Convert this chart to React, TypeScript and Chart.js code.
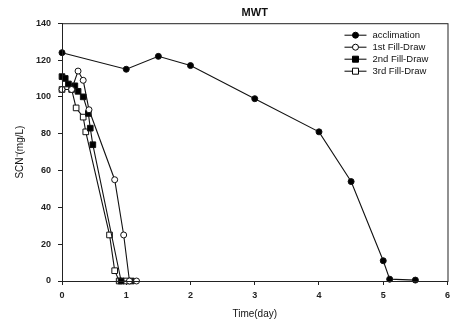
import React, { useEffect, useRef } from "react";
import { Chart, registerables } from "chart.js";
Chart.register(...registerables);

const title = "MWT";
const xTitle = "Time(day)";
const yTitle = "SCN⁻(mg/L)";
const seriesNames = ["acclimation", "1st Fill-Draw", "2nd Fill-Draw", "3rd Fill-Draw"];

const acclimationT = [0, 1, 1.5, 2, 3, 4, 4.5, 5, 5.1, 5.5];
const acclimationV = [124, 115, 122, 117, 99, 81, 54, 11, 1, 0.5];

const fill1T = [0, 0.15, 0.25, 0.33, 0.42, 0.82, 0.96, 1.05, 1.16];
const fill1V = [104, 104, 114, 109, 93, 55, 25, 0, 0];

const fill2T = [0, 0.05, 0.1, 0.2, 0.25, 0.33, 0.41, 0.44, 0.48, 0.92, 1.08];
const fill2V = [111, 110, 107, 106, 103, 100, 91, 83, 74, 0, 0];

const fill3T = [0, 0.15, 0.22, 0.33, 0.37, 0.74, 0.82, 0.89, 0.99];
const fill3V = [104, 104, 94, 89, 81, 25, 5.6, 0, 0];

const xTicks = [0, 1, 2, 3, 4, 5, 6];
const yTicks = [0, 20, 40, 60, 80, 100, 120, 140];

const FONT = "'Liberation Sans', Arial, sans-serif";

const toPts = (t: number[], v: number[]) => t.map((x, i) => ({ x, y: v[i] }));

const markerStyles = [
  { pointStyle: "circle", fill: "#000", r: 3 },
  { pointStyle: "circle", fill: "#fff", r: 3 },
  { pointStyle: "rect", fill: "#000", r: 4 },
  { pointStyle: "rect", fill: "#fff", r: 4 },
];

const framePlugin = {
  id: "frame",
  afterDatasetsDraw(chart: any) {
    const { ctx, chartArea: a } = chart;
    ctx.save();
    ctx.strokeStyle = "#222";
    ctx.lineWidth = 1;
    ctx.strokeRect(a.left + 0.5, a.top + 0.5, a.right - a.left, a.bottom - a.top);
    ctx.restore();
  },
  afterDraw(chart: any) {
    const { ctx, chartArea: a } = chart;
    ctx.save();
    const x0 = a.right - 103;
    const y0 = a.top + 12;
    chart.data.datasets.forEach((ds: any, i: number) => {
      const y = y0 + i * 12;
      ctx.strokeStyle = "#000";
      ctx.lineWidth = 1;
      ctx.beginPath();
      ctx.moveTo(x0, y);
      ctx.lineTo(x0 + 22, y);
      ctx.stroke();
      ctx.fillStyle = markerStyles[i].fill;
      ctx.beginPath();
      if (markerStyles[i].pointStyle === "circle") {
        ctx.arc(x0 + 11, y, 3, 0, Math.PI * 2);
      } else {
        ctx.rect(x0 + 8, y - 3, 6, 6);
      }
      ctx.fill();
      ctx.stroke();
      ctx.fillStyle = "#111";
      ctx.font = `9.5px ${FONT}`;
      ctx.textBaseline = "middle";
      ctx.textAlign = "left";
      ctx.fillText(ds.label, x0 + 28, y);
    });
    ctx.restore();
  },
};

export default function App() {
  const ref = useRef<HTMLCanvasElement>(null);
  useEffect(() => {
    document.body.style.margin = "0";
    const datasets = [
      toPts(acclimationT, acclimationV),
      toPts(fill1T, fill1V),
      toPts(fill2T, fill2V),
      toPts(fill3T, fill3V),
    ].map((data, i) => ({
      label: seriesNames[i],
      data,
      borderColor: "#111",
      borderWidth: 1.1,
      pointStyle: markerStyles[i].pointStyle,
      pointRadius: markerStyles[i].r,
      pointBackgroundColor: markerStyles[i].fill,
      pointBorderColor: "#111",
      pointBorderWidth: 1,
      showLine: true,
      fill: false,
      tension: 0,
      clip: false as any,
    }));
    const chart = new Chart(ref.current!, {
      type: "scatter",
      data: { datasets },
      options: {
        animation: false,
        responsive: false,
        layout: { padding: { left: 0, right: 5, top: 2, bottom: 0 } },
        plugins: {
          legend: { display: false },
          tooltip: { enabled: false },
          title: {
            display: true,
            text: title,
            fullSize: false,
            color: "#111",
            font: { family: FONT, size: 11, weight: "bold" },
            padding: { top: 4, bottom: 4 },
          },
        },
        scales: {
          x: {
            type: "linear",
            min: 0,
            max: 6,
            afterBuildTicks: (s: any) => {
              s.ticks = xTicks.map((v) => ({ value: v }));
            },
            afterFit: (s: any) => {
              s.height = 48;
            },
            grid: { display: true, drawOnChartArea: false, drawTicks: true, tickLength: 4, color: "#222" },
            border: { display: true, color: "#222" },
            ticks: { color: "#222", padding: 5, font: { family: FONT, size: 9, weight: "bold" } },
            title: {
              display: true,
              text: xTitle,
              color: "#111",
              font: { family: FONT, size: 10 },
              padding: { top: 0, bottom: 9 },
            },
          },
          y: {
            type: "linear",
            min: 0,
            max: 140,
            afterBuildTicks: (s: any) => {
              s.ticks = yTicks.map((v) => ({ value: v }));
            },
            afterFit: (s: any) => {
              s.width = 62;
            },
            grid: { display: true, drawOnChartArea: false, drawTicks: true, tickLength: 4, color: "#222" },
            border: { display: true, color: "#222" },
            ticks: { color: "#222", padding: 7, font: { family: FONT, size: 9, weight: "bold" } },
            title: {
              display: true,
              text: yTitle,
              color: "#111",
              font: { family: FONT, size: 10 },
              padding: { top: 14, bottom: 0 },
            },
          },
        },
      },
      plugins: [framePlugin],
    } as any);
    return () => chart.destroy();
  }, []);
  return (
    <div style={{ width: 455, height: 329 }}>
      <canvas ref={ref} width={455} height={329} style={{ background: "#fff" }} />
    </div>
  );
}
